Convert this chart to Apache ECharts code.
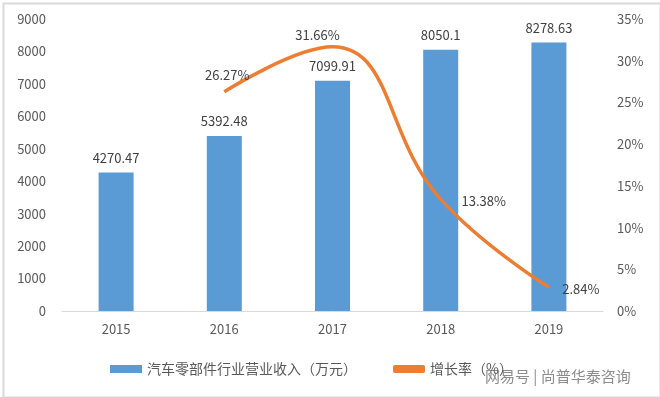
<!DOCTYPE html>
<html><head><meta charset="utf-8">
<script src="https://cdn.jsdelivr.net/npm/echarts@6/dist/echarts.min.js"></script>
<style>html,body{margin:0;padding:0;background:#fff}#c{width:660px;height:397px}</style>
</head><body><div id="c"></div>
<script>
const categories = ['2015','2016','2017','2018','2019'];
const revenue = [4270.47, 5392.48, 7099.91, 8050.1, 8278.63];
const growth = [null, 26.27, 31.66, 13.38, 2.84];
const leftTicks = ['0','1000','2000','3000','4000','5000','6000','7000','8000','9000'];
const rightTicks = ['0%','5%','10%','15%','20%','25%','30%','35%'];
const barName = '汽车零部件行业营业收入（万元）';
const lineName = '增长率（%）';

const font = '"Noto Sans CJK SC", sans-serif';
const offs = [[0,0],[3,-17],[-15,-12],[43,2],[32,2]];
const chart = echarts.init(document.getElementById('c'));
chart.setOption({
  animation: false,
  textStyle: {fontFamily: font},
  grid: {left: 62, right: 57, top: 19, bottom: 86},
  legend: {
    bottom: 16, left: 105, itemGap: 36,
    itemWidth: 32, itemHeight: 8,
    textStyle: {fontSize: 14, color: '#595959', fontFamily: font},
    data: [{name: barName, icon: 'rect'}, {name: lineName, icon: 'roundRect', itemStyle: {color: '#ED7D31', opacity: 1}}]
  },
  xAxis: {
    type: 'category', data: categories,
    axisLine: {lineStyle: {color: '#D9D9D9'}},
    axisTick: {show: false},
    axisLabel: {color: '#595959', fontSize: 13, margin: 12}
  },
  yAxis: [{
    type: 'value', min: 0, max: 9000, interval: 1000,
    splitLine: {show: false}, axisLine: {show: false}, axisTick: {show: false},
    axisLabel: {color: '#595959', fontSize: 13, margin: 16, formatter: v => leftTicks[v/1000]}
  }, {
    type: 'value', min: 0, max: 35, interval: 5,
    splitLine: {show: false}, axisLine: {show: false}, axisTick: {show: false},
    axisLabel: {color: '#595959', fontSize: 13, margin: 14, formatter: v => rightTicks[v/5]}
  }],
  series: [{
    name: barName, type: 'bar', data: revenue, barWidth: 35,
    itemStyle: {color: '#5B9BD5'},
    label: {show: true, position: 'top', distance: 8, color: '#404040', fontSize: 13}
  }, {
    name: lineName, type: 'line', yAxisIndex: 1,
    smooth: 0.45, showSymbol: true, symbol: 'circle', symbolSize: 2,
    lineStyle: {color: '#ED7D31', width: 3.5},
    itemStyle: {color: 'rgba(237,125,49,0)', borderWidth: 0},
    label: {show: true, color: '#404040', fontSize: 13, align: 'center', verticalAlign: 'middle',
            formatter: p => p.value.toFixed(2) + '%'},
    labelLayout: {hideOverlap: false},
    data: growth.map((v, i) => {
      if (v === null) return '-';
      return {value: v, label: {show: true, position: [offs[i][0] + 1, offs[i][1] + 1], align: 'center', verticalAlign: 'middle'}};
    })
  }],
  graphic: [{
    type: 'rect', left: 1, top: 1,
    shape: {width: 657, height: 394},
    style: {fill: 'none', stroke: '#D9D9D9', lineWidth: 2}
  }, {
    type: 'text', left: 485, top: 369,
    style: {text: '网易号 | 尚普华泰咨询', fill: '#8c8c8c', font: '15px "Noto Sans CJK SC"'}
  }]
});
</script></body></html>
